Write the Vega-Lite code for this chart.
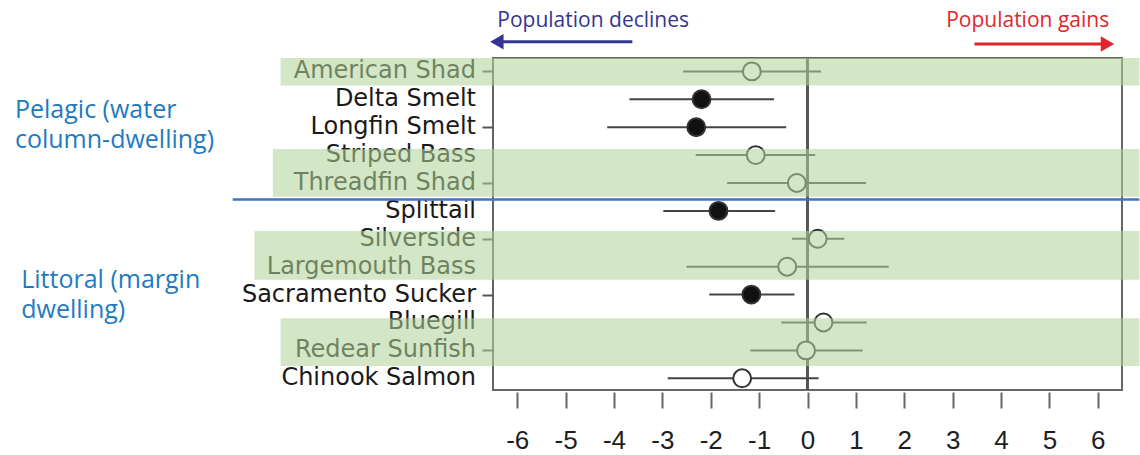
{
  "$schema": "https://vega.github.io/schema/vega-lite/v6.json",
  "width": 629,
  "height": 332,
  "autosize": "none",
  "padding": {"left": 493, "top": 58, "right": 18, "bottom": 65},
  "background": "white",
  "config": {
    "view": {"stroke": "#666666", "strokeWidth": 2},
    "axis": {"grid": false}
  },
  "datasets": {
    "fish": [
      {"species": "American Shad", "row": 1, "est": -1.15, "lo": -2.57, "hi": 0.28, "filled": false},
      {"species": "Delta Smelt", "row": 2, "est": -2.19, "lo": -3.68, "hi": -0.69, "filled": true},
      {"species": "Longfin Smelt", "row": 3, "est": -2.30, "lo": -4.14, "hi": -0.44, "filled": true},
      {"species": "Striped Bass", "row": 4, "est": -1.07, "lo": -2.31, "hi": 0.16, "filled": false},
      {"species": "Threadfin Shad", "row": 5, "est": -0.22, "lo": -1.66, "hi": 1.21, "filled": false},
      {"species": "Splittail", "row": 6, "est": -1.84, "lo": -2.98, "hi": -0.67, "filled": true},
      {"species": "Silverside", "row": 7, "est": 0.21, "lo": -0.32, "hi": 0.76, "filled": false},
      {"species": "Largemouth Bass", "row": 8, "est": -0.42, "lo": -2.50, "hi": 1.68, "filled": false},
      {"species": "Sacramento Sucker", "row": 9, "est": -1.16, "lo": -2.03, "hi": -0.27, "filled": true},
      {"species": "Bluegill", "row": 10, "est": 0.33, "lo": -0.54, "hi": 1.22, "filled": false},
      {"species": "Redear Sunfish", "row": 11, "est": -0.03, "lo": -1.18, "hi": 1.14, "filled": false},
      {"species": "Chinook Salmon", "row": 12, "est": -1.35, "lo": -2.89, "hi": 0.23, "filled": false}
    ],
    "bands": [
      {"xs": -10.89, "xe": 6.86, "ys": 0.52, "ye": 1.51},
      {"xs": -11.05, "xe": 6.86, "ys": 3.78, "ye": 5.49},
      {"xs": -11.43, "xe": 6.86, "ys": 6.72, "ye": 8.47},
      {"xs": -10.89, "xe": 6.86, "ys": 9.85, "ye": 11.56}
    ],
    "divider": [{"xs": -11.88, "xe": 6.86, "y": 5.59}],
    "arrows": [
      {"dir": "declines", "xs": -6.35, "xe": -3.62, "y": -0.064, "tip": -6.42},
      {"dir": "gains", "xs": 3.45, "xe": 6.15, "y": 0.018, "tip": 6.2}
    ],
    "headers": [
      {"dir": "declines", "text": "Population declines", "x": -4.43, "y": -0.6},
      {"dir": "gains", "text": "Population gains", "x": 4.55, "y": -0.6}
    ],
    "groups": [
      {"text": "Pelagic (water\ncolumn-dwelling)", "x": -16.38, "y": 2.66},
      {"text": "Littoral (margin\ndwelling)", "x": -16.25, "y": 8.76}
    ]
  },
  "layer": [
    {
      "data": {"name": "fish"},
      "mark": {"type": "rule", "color": "#555555", "strokeWidth": 1.5},
      "encoding": {
        "x": {"datum": 0, "type": "quantitative",
          "scale": {"domain": [-6.5, 6.5], "nice": false, "zero": false},
          "axis": {"values": [-6, -5, -4, -3, -2, -1, 0, 1, 2, 3, 4, 5, 6], "labelExpr": "'' + datum.value", "title": null, "domain": false, "offset": 2, "tickSize": 16, "tickWidth": 2, "tickColor": "#666666", "labelFont": "Liberation Sans", "labelFontSize": 26, "labelColor": "#1e1e1e", "labelPadding": 19}
        }
      }
    },
    {
      "data": {"name": "fish"},
      "mark": {"type": "rule", "color": "#444444", "strokeWidth": 2},
      "encoding": {
        "x": {"field": "lo", "type": "quantitative"},
        "x2": {"field": "hi"},
        "y": {"field": "row", "type": "quantitative",
          "scale": {"domain": [0.52, 12.42], "reverse": true, "nice": false, "zero": false},
          "axis": {"values": [1, 2, 3, 4, 5, 6, 7, 8, 9, 10, 11, 12], "labels": false, "title": null, "domain": false, "tickSize": 11, "tickWidth": 2, "tickColor": "#555555"}
        }
      }
    },
    {
      "data": {"name": "fish"},
      "mark": {"type": "point", "shape": "circle", "filled": true, "size": 320, "stroke": "#333333", "strokeWidth": 2},
      "encoding": {
        "x": {"field": "est", "type": "quantitative"},
        "y": {"field": "row", "type": "quantitative"},
        "fill": {"condition": {"test": "datum.filled", "value": "#111111"}, "value": "#ffffff"},
        "opacity": {"value": 1}
      }
    },
    {
      "data": {"name": "fish"},
      "mark": {"type": "text", "align": "right", "baseline": "middle", "dx": -17, "font": "DejaVu Sans", "fontSize": 24, "color": "#1a1a1a"},
      "encoding": {
        "x": {"datum": -6.5, "type": "quantitative"},
        "y": {"field": "row", "type": "quantitative"},
        "text": {"field": "species"}
      }
    },
    {
      "data": {"name": "bands"},
      "mark": {"type": "rect", "color": "#b0d397", "opacity": 0.56},
      "encoding": {
        "x": {"field": "xs", "type": "quantitative"},
        "x2": {"field": "xe"},
        "y": {"field": "ys", "type": "quantitative"},
        "y2": {"field": "ye"}
      }
    },
    {
      "data": {"name": "divider"},
      "mark": {"type": "rule", "color": "#4472c4", "strokeWidth": 2.5},
      "encoding": {
        "x": {"field": "xs", "type": "quantitative"},
        "x2": {"field": "xe"},
        "y": {"field": "y", "type": "quantitative"}
      }
    },
    {
      "data": {"name": "arrows"},
      "mark": {"type": "rule", "strokeWidth": 3},
      "encoding": {
        "x": {"field": "xs", "type": "quantitative"},
        "x2": {"field": "xe"},
        "y": {"field": "y", "type": "quantitative"},
        "color": {"field": "dir", "type": "nominal", "scale": {"domain": ["declines", "gains"], "range": ["#35358f", "#e3262b"]}, "legend": null}
      }
    },
    {
      "data": {"name": "arrows"},
      "mark": {"type": "point", "filled": true, "size": 240, "opacity": 1},
      "encoding": {
        "x": {"field": "tip", "type": "quantitative"},
        "y": {"field": "y", "type": "quantitative"},
        "shape": {"field": "dir", "type": "nominal", "scale": {"domain": ["declines", "gains"], "range": ["triangle-left", "triangle-right"]}, "legend": null},
        "color": {"field": "dir", "type": "nominal", "legend": null}
      }
    },
    {
      "data": {"name": "headers"},
      "mark": {"type": "text", "align": "center", "baseline": "alphabetic", "font": "Open Sans", "fontSize": 21},
      "encoding": {
        "x": {"field": "x", "type": "quantitative"},
        "y": {"field": "y", "type": "quantitative"},
        "text": {"field": "text"},
        "color": {"field": "dir", "type": "nominal", "legend": null}
      }
    },
    {
      "data": {"name": "groups"},
      "mark": {"type": "text", "align": "left", "baseline": "alphabetic", "font": "Open Sans", "fontSize": 25, "lineHeight": 30, "lineBreak": "\n", "color": "#1f7bc1"},
      "encoding": {
        "x": {"field": "x", "type": "quantitative"},
        "y": {"field": "y", "type": "quantitative"},
        "text": {"field": "text"}
      }
    }
  ]
}
